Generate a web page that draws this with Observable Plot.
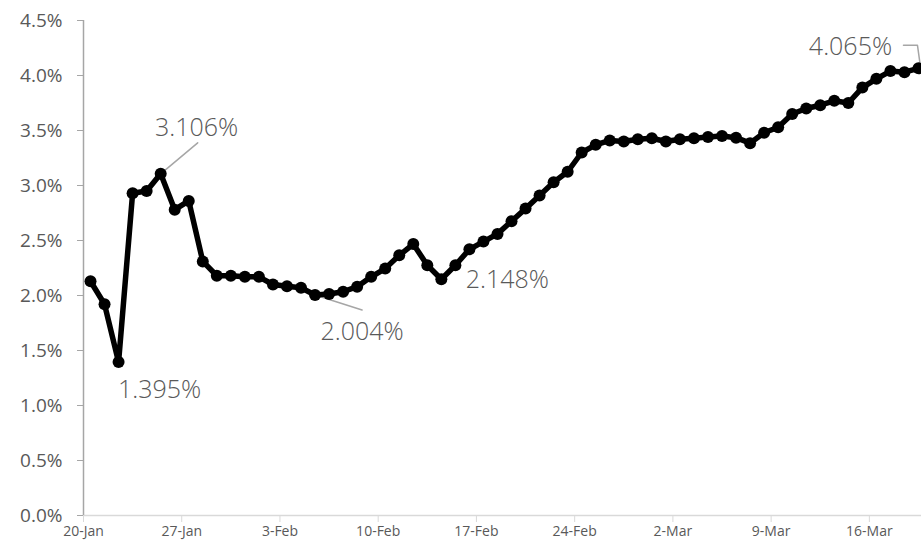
<!DOCTYPE html>
<html>
<head>
<meta charset="utf-8">
<script src="https://cdn.jsdelivr.net/npm/d3@7"></script>
<script src="https://cdn.jsdelivr.net/npm/@observablehq/plot@0.6"></script>
<style>
  html, body { margin: 0; padding: 0; background: #fff; overflow: hidden; }
  #chart { width: 921px; height: 545px; }
</style>
</head>
<body>
<div id="chart"></div>
<script>
// ---- data ----
const startDate = "2020-01-20";
const rates = [
  2.13, 1.92, 1.395, 2.93, 2.95, 3.106, 2.78, 2.86, 2.31, 2.18,
  2.18, 2.17, 2.17, 2.10, 2.085, 2.07, 2.004, 2.013, 2.034, 2.08,
  2.17, 2.245, 2.365, 2.468, 2.275, 2.148, 2.275, 2.42, 2.49, 2.56,
  2.675, 2.79, 2.91, 3.03, 3.125, 3.30, 3.37, 3.41, 3.40, 3.42,
  3.43, 3.40, 3.42, 3.43, 3.44, 3.45, 3.435, 3.385, 3.48, 3.53,
  3.65, 3.70, 3.73, 3.77, 3.75, 3.89, 3.97, 4.04, 4.03, 4.065
];
const xTickLabels = ["20-Jan", "27-Jan", "3-Feb", "10-Feb", "17-Feb", "24-Feb", "2-Mar", "9-Mar", "16-Mar"];
const yTicks = [0, 0.005, 0.01, 0.015, 0.02, 0.025, 0.03, 0.035, 0.04, 0.045];
const labelledDays = [2, 5, 16, 25, 59];

// ---- build table ----
const start = new Date(startDate + "T00:00:00Z");
const dayCount = rates.length;
const data = rates.map((v, i) => ({
  date: d3.utcHour.offset(d3.utcDay.offset(start, i), 12),
  rate: v / 100
}));
const xTicks = xTickLabels.map((_, k) => d3.utcDay.offset(start, 7 * k));
const end = d3.utcDay.offset(start, dayCount);

// layout
const W = 921, H = 545;
const x0 = 83, x1 = 925, yBottom = 515, yTop = 20;
const pxPerDay = (x1 - x0) / dayCount;
const pxPerUnit = (yBottom - yTop) / 0.045;
const shift = (d, dxPx, dyPx) => ({
  date: new Date(+d.date + dxPx / pxPerDay * 864e5),
  rate: d.rate - dyPx / pxPerUnit
});

// label placement (pixel offsets from the point)
const labelStyle = {
  2:  {dx: 41, dy: 28},
  5:  {dx: 36, dy: -46},
  16: {dx: 47, dy: 37},
  25: {dx: 66, dy: 1},
  59: {dx: -68, dy: -21}
};

const leaders = [
  [data[5], shift(data[5], 37, -31)],
  [data[16], shift(data[16], 47, 15)],
  [shift(data[59], -15, -23), shift(data[59], -1, -23), shift(data[59], 1.5, -5)]
];

const fontFamily = "'Open Sans', 'Segoe UI', sans-serif";

const labelMarks = labelledDays.map(i => Plot.text([data[i]], {
  x: "date", y: "rate",
  text: () => d3.format(".3f")(rates[i]) + "%",
  dx: labelStyle[i].dx, dy: labelStyle[i].dy,
  fill: "#595959", fontSize: 25, fontWeight: 300, textAnchor: "middle"
}));

const plot = Plot.plot({
  width: W,
  height: H,
  marginLeft: x0,
  marginRight: 0,
  marginTop: yTop,
  marginBottom: H - yBottom,
  style: {fontFamily, background: "#fff", overflow: "hidden"},
  x: {type: "utc", domain: [start, end], range: [x0, x1]},
  y: {domain: [0, 0.045], range: [yBottom, yTop]},
  marks: [
    Plot.axisY({
      ticks: yTicks, tickFormat: d3.format(".1%"), tickSize: 6, tickPadding: 15,
      stroke: "#a6a6a6", fill: "#595959", fontSize: 19, label: null
    }),
    Plot.axisX({
      ticks: xTicks, tickFormat: (d, i) => xTickLabels[i], tickSize: 7, tickPadding: 4,
      stroke: "#d9d9d9", fill: "#595959", fontSize: 14, label: null
    }),
    Plot.ruleY([0], {x1: start, x2: end, stroke: "#d9d9d9", strokeWidth: 1.5}),
    Plot.ruleX([start], {y1: 0, y2: 0.045, stroke: "#a6a6a6", strokeWidth: 1.5}),
    ...leaders.map(pts => Plot.line(pts, {x: "date", y: "rate", stroke: "#a6a6a6", strokeWidth: 1.5})),
    Plot.line(data, {x: "date", y: "rate", stroke: "#000", strokeWidth: 5.5, strokeLinejoin: "round"}),
    Plot.dot(data, {x: "date", y: "rate", r: 6, fill: "#000", stroke: "none"}),
    ...labelMarks
  ]
});
document.getElementById("chart").appendChild(plot);
</script>
</body>
</html>
